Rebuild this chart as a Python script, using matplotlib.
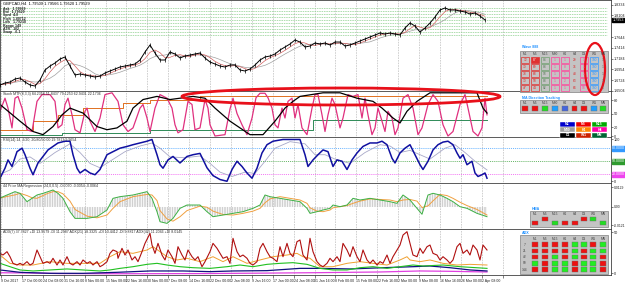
import numpy as np
import pandas as pd
import matplotlib
matplotlib.use("Agg")
import matplotlib.pyplot as plt
import matplotlib.transforms as mtrans
from matplotlib.patches import Rectangle, Ellipse

# ======================= DATA =======================
title_text = "GBPCAD,H4  1.79509 1.79566 1.79520 1.79529"
info_lines = ["Ask   1.79569", "Bid   1.79529", "Sprd  4.0", "High  1.80712",
              "Low   1.79218", "Range 149", "ATR   102", "Swap  -6.1"]
date_labels = ["9 Oct 2017", "17 Oct 00:00", "24 Oct 08:00", "31 Oct 16:00", "8 Nov 00:00",
               "15 Nov 08:00", "22 Nov 16:00", "30 Nov 00:00", "7 Dec 08:00", "14 Dec 16:00",
               "22 Dec 00:00", "2 Jan 08:00", "9 Jan 16:00", "17 Jan 00:00", "24 Jan 08:00",
               "31 Jan 16:00", "8 Feb 00:00", "15 Feb 08:00", "22 Feb 16:00", "2 Mar 00:00",
               "9 Mar 08:00", "16 Mar 16:00", "26 Mar 00:00", "2 Apr 08:00"]

# price closes (one value every 5 time slots)
close = [1.6622, 1.6664, 1.6685, 1.6749, 1.6771, 1.6685, 1.6622, 1.6600, 1.6728, 1.6941,
         1.7026, 1.7090, 1.7175, 1.7218, 1.7026, 1.6835, 1.6856, 1.6835, 1.6813, 1.6792,
         1.6813, 1.6877, 1.6920, 1.6962, 1.7005, 1.7026, 1.7048, 1.7069, 1.7154, 1.7324,
         1.7474, 1.7303, 1.7154, 1.7154, 1.7324, 1.7282, 1.7197, 1.7239, 1.7260, 1.7282,
         1.7303, 1.7197, 1.7111, 1.7069, 1.7026, 1.7005, 1.7048, 1.7048, 1.6941, 1.6920,
         1.6962, 1.7048, 1.7154, 1.7218, 1.7239, 1.7282, 1.7367, 1.7431, 1.7495, 1.7580,
         1.7537, 1.7431, 1.7452, 1.7516, 1.7495, 1.7516, 1.7474, 1.7537, 1.7537, 1.7452,
         1.7474, 1.7516, 1.7559, 1.7601, 1.7644, 1.7687, 1.7729, 1.7708, 1.7729, 1.7708,
         1.7687, 1.7836, 1.7942, 1.7878, 1.7750, 1.7836, 1.7942, 1.8070, 1.8219, 1.8262,
         1.8219, 1.8219, 1.8198, 1.8176, 1.8134, 1.8155, 1.8091, 1.8006]
close_step = 5
level_prices = [1.8262, 1.8198, 1.8134, 1.8070, 1.8006, 1.7942, 1.7878, 1.7814, 1.7750, 1.7687]
price_ticks = [1.8334, 1.8104, 1.7644, 1.7414, 1.7184, 1.6954, 1.6724, 1.6504]

# stochastic panel
stoch_t = [0, 5, 8, 12, 15, 18, 22, 27, 32, 37, 42, 50, 55, 58, 62, 65, 68, 72, 75, 80,
           85, 87, 90, 95, 100, 105, 112, 118, 123, 128, 133, 140, 143, 147, 150, 155, 160, 167, 172, 175,
           178, 183, 188, 192, 195, 200, 205, 208, 210, 215, 225, 230, 233, 237, 242, 247, 252, 256, 260, 265,
           268, 272, 275, 278, 282, 285, 288, 292, 295, 298, 302, 307, 312, 315, 318, 322, 325, 328, 332, 335,
           340, 343, 348, 353, 358, 362, 365, 368, 372, 375, 378, 382, 385, 388, 392, 395, 398, 403, 408, 413,
           418, 422, 428, 433, 438, 443, 448, 453, 460, 465, 468, 473, 478, 482, 485, 487]
stoch_v = [55, 84, 62, 18, 84, 88, 62, 14, 10, 77, 92, 92, 77, 18, 25, 70, 84, 47, 14, 7,
           55, 62, 33, 10, 40, 92, 96, 77, 25, 10, 18, 62, 70, 40, 10, 62, 92, 84, 62, 25,
           7, 14, 77, 70, 14, 18, 81, 62, 25, 0, 3, 60, 84, 50, 25, 3, 40, 85, 95, 95,
           85, 62, 25, 18, 62, 40, 77, 84, 40, 70, 18, 3, 62, 92, 92, 47, 10, 47, 84, 70,
           18, 40, 92, 88, 92, 40, 84, 47, 3, 18, 62, 33, 10, 55, 40, 3, 18, 84, 92, 62,
           3, 18, 70, 92, 77, 25, 0, 10, 70, 92, 62, 10, 0, 18, 84, 47]
trend_t = [0, 20, 33, 43, 53, 62, 70, 83, 97, 107, 117, 127, 133, 143, 157, 170, 180, 193, 205, 215,
           230, 250, 263, 275, 285, 293, 300, 323, 340, 357, 373, 382, 393, 400, 407, 417, 430, 477, 483, 487]
trend_v = [70, 33, 10, 3, 21, 47, 62, 51, 21, 14, 18, 33, 62, 81, 88, 81, 84, 88, 84, 62,
           33, 3, 3, 33, 62, 77, 88, 96, 96, 84, 77, 62, 40, 29, 55, 77, 96, 96, 62, 51]
orange_step_t = [0, 33, 58, 83, 123, 150, 200, 487]
orange_step_v = [14, 33, 47, 62, 73, 81, 90, 90]
green_step_t = [0, 62, 150, 313, 487]
green_step_v = [3, 7, 14, 36, 36]
stoch_ticks = [80, 50, 20, 0]

# RSI panel
rsi_t = [0, 5, 8, 12, 17, 22, 25, 30, 33, 38, 43, 48, 53, 58, 65, 70, 73, 77, 80, 85,
         90, 95, 100, 107, 113, 120, 127, 133, 140, 147, 152, 157, 160, 163, 168, 173, 180, 187, 193, 200,
         207, 213, 220, 227, 232, 237, 242, 247, 252, 257, 262, 267, 273, 283, 293, 300, 305, 308, 313, 318,
         323, 328, 333, 337, 342, 347, 352, 357, 363, 370, 377, 382, 387, 392, 395, 400, 405, 410, 415, 420,
         423, 428, 433, 438, 443, 448, 453, 457, 460, 463, 467, 472, 475, 478, 482, 485, 487]
rsi_v = [11, 34, 53, 38, 72, 80, 65, 34, 19, 46, 61, 76, 84, 92, 96, 96, 65, 34, 23, 31,
         23, 19, 31, 65, 72, 80, 84, 88, 92, 96, 100, 65, 42, 34, 53, 61, 46, 61, 65, 68,
         35, 17, 8, 4, 31, 50, 38, 23, 11, 34, 69, 88, 96, 100, 100, 100, 65, 38, 53, 65,
         76, 72, 38, 53, 50, 31, 53, 69, 84, 92, 92, 96, 88, 57, 46, 69, 80, 88, 65, 42,
         31, 50, 76, 88, 94, 96, 88, 69, 57, 65, 42, 50, 23, 15, 19, 23, 11]
rsi_sig_t = [0, 10, 20, 30, 40, 55, 70, 80, 90, 100, 110, 125, 140, 152, 160, 170, 185, 200, 210, 220,
             232, 245, 255, 265, 275, 290, 305, 315, 325, 335, 350, 365, 380, 390, 400, 410, 420, 430, 445, 455,
             465, 475, 487]
rsi_sig_v = [20, 30, 55, 60, 45, 70, 90, 70, 45, 35, 50, 72, 85, 92, 80, 60, 58, 62, 45, 25,
             15, 25, 22, 50, 80, 95, 90, 65, 65, 55, 45, 70, 88, 85, 70, 75, 65, 55, 80, 88,
             70, 50, 30]
rsi_levels = [80, 50, 20]

# regression panel
reg_t = [0, 7, 15, 20, 27, 32, 37, 43, 48, 53, 58, 63, 70, 75, 87, 97, 107, 113, 120, 133,
         147, 152, 157, 160, 167, 173, 180, 187, 200, 207, 213, 223, 233, 243, 253, 260, 265, 270, 280, 290,
         300, 307, 310, 317, 323, 330, 333, 340, 347, 353, 360, 370, 380, 390, 397, 403, 410, 417, 422, 428,
         433, 440, 447, 453, 460, 467, 477, 482, 487]
reg_v = [0.0059, 0.0079, 0.0101, 0.0090, 0.0035, 0.0057, 0.0079, 0.0090, 0.0101, 0.0112,
         0.0090, 0.0057, -0.0031, -0.0075, -0.0075, -0.0064, -0.0020, 0.0057, 0.0068, 0.0079,
         0.0101, 0.0057, -0.0031, -0.0097, -0.0108, -0.0075, -0.0009, 0.0013, 0.0013, -0.0031,
         -0.0064, -0.0053, -0.0042, -0.0031, -0.0009, 0.0013, 0.0079, 0.0068, 0.0057, 0.0046,
         0.0035, -0.0009, -0.0042, -0.0031, -0.0020, -0.0009, 0.0013, 0.0002, 0.0013, 0.0057,
         0.0046, 0.0057, 0.0046, 0.0035, 0.0024, 0.0079, 0.0046, -0.0009, -0.0048, 0.0079,
         0.0090, 0.0079, 0.0057, 0.0035, 0.0002, -0.0009, -0.0042, -0.0053, -0.0064]
reg_ticks = [0.0129, 0.0, -0.0121]
reg_tick_labels = ["0.0129", "0.00", "-0.0121"]

# ADX panel
adx_t = [0, 3, 7, 10, 13, 17, 20, 23, 27, 30, 33, 37, 40, 43, 47, 50, 53, 57, 60, 63,
         67, 70, 73, 77, 80, 83, 87, 90, 93, 97, 100, 103, 107, 110, 113, 117, 118, 122, 125, 128,
         132, 135, 138, 142, 145, 150, 152, 155, 158, 162, 165, 168, 172, 175, 178, 182, 185, 188, 192, 195,
         198, 202, 205, 210, 213, 217, 220, 223, 227, 230, 233, 237, 240, 243, 247, 250, 253, 257, 260, 263,
         267, 270, 273, 277, 280, 283, 287, 290, 293, 297, 300, 303, 307, 310, 313, 317, 320, 323, 327, 330,
         333, 337, 340, 343, 347, 350, 353, 357, 360, 363, 367, 370, 373, 377, 380, 383, 387, 390, 393, 397,
         400, 403, 407, 410, 413, 417, 420, 423, 427, 430, 433, 437, 440, 443, 447, 450, 453, 457, 460, 463,
         467, 470, 473, 477, 480, 483, 487]
adx_v = [24.6, 22.6, 26.6, 20.6, 12.7, 10.7, 12.7, 10.7, 14.7, 10.7, 12.7, 28.6, 20.6, 12.7, 14.7, 12.7, 18.7, 10.7, 16.7, 10.7,
         20.6, 12.7, 10.7, 14.7, 10.7, 16.7, 12.7, 14.7, 10.7, 14.7, 8.7, 10.7, 14.7, 24.6, 28.6, 26.6, 18.7, 30.6, 22.6, 28.6,
         16.7, 20.6, 14.7, 26.6, 36.5, 48.4, 34.5, 24.6, 36.5, 22.6, 16.7, 28.6, 20.6, 12.7, 32.5, 22.6, 16.7, 28.6, 20.6, 16.7,
         20.6, 8.7, 14.7, 26.6, 36.5, 30.6, 24.6, 18.7, 20.6, 12.7, 42.5, 26.6, 20.6, 22.6, 18.7, 12.7, 10.7, 14.7, 30.6, 36.5,
         26.6, 20.6, 18.7, 14.7, 32.5, 20.6, 36.5, 24.6, 20.6, 38.5, 40.5, 22.6, 16.7, 42.5, 26.6, 14.7, 10.7, 8.7, 12.7, 18.7,
         14.7, 20.6, 14.7, 36.5, 28.6, 20.6, 32.5, 20.6, 14.7, 28.6, 16.7, 12.7, 16.7, 10.7, 14.7, 12.7, 22.6, 12.7, 20.6, 28.6,
         34.5, 46.4, 50.4, 36.5, 22.6, 20.6, 30.6, 24.6, 32.5, 34.5, 24.6, 22.6, 16.7, 20.6, 16.7, 12.7, 16.7, 32.5, 36.5, 24.6,
         28.6, 22.6, 34.5, 28.6, 16.7, 34.5, 28.6]
di_orange_t = [0, 10, 20, 33, 50, 67, 83, 100, 110, 120, 133, 147, 153, 160, 167, 177, 187, 200, 213, 223,
               233, 247, 260, 273, 287, 297, 303, 310, 320, 333, 347, 360, 373, 387, 400, 407, 410, 420, 430, 443,
               457, 470, 487]
di_orange_v = [22.6, 12.7, 10.7, 10.7, 14.7, 12.7, 12.7, 12.7, 20.6, 26.6, 24.6, 28.6, 32.5, 26.6, 20.6, 16.7, 18.7, 14.7, 20.6, 14.7,
               20.6, 12.7, 16.7, 20.6, 22.6, 24.6, 20.6, 18.7, 8.7, 8.7, 12.7, 14.7, 12.7, 10.7, 16.7, 20.6, 16.7, 14.7, 16.7, 12.7,
               10.7, 11.5, 10.7]
di_green_t = [0, 10, 20, 33, 50, 67, 83, 100, 110, 120, 133, 147, 157, 167, 180, 193, 210, 227, 240, 253,
              267, 280, 293, 307, 320, 333, 347, 360, 373, 387, 400, 413, 423, 443, 460, 487]
di_green_v = [12.7, 8.7, 4.8, 3.6, 4.8, 6.0, 4.8, 3.6, 4.8, 6.7, 8.7, 11.5, 12.7, 10.7, 8.7, 7.5, 6.7, 8.7, 10.7, 8.7,
              11.5, 12.7, 13.5, 11.5, 6.7, 4.8, 4.8, 7.5, 8.7, 6.7, 8.7, 10.7, 9.5, 10.7, 8.7, 6.7]
di_navy_t = [0, 20, 50, 83, 117, 150, 183, 210, 233, 267, 300, 320, 350, 383, 413, 430, 450, 470, 487]
di_navy_v = [4.8, 2.0, 0.8, 0.8, 2.0, 3.6, 3.6, 2.8, 3.6, 4.0, 6.7, 6.7, 6.0, 7.5, 8.7, 9.5, 7.5, 4.8, 3.6]
di_mag_t = [0, 30, 60, 120, 200, 260, 320, 380, 420, 450, 487]
di_mag_v = [1.5, 1.2, 0.5, 0.3, 0.5, 1.0, 1.6, 2.4, 3.6, 3.2, 2.4]

# dashboard tables
tf9 = ["M1", "M5", "M15", "M30", "H1", "H4", "D1", "W1", "MN"]
tf8 = ["M1", "M5", "M15", "H1", "H4", "D1", "W1", "MN"]
wave_vals = [[12, 87, 84, 1, 1, 29, 1, 100, 1],
             [70, 69, 83, 1, 8, 36, 1, 100, 1],
             [78, 68, 93, 1, 1, 48, 1, 100, 1],
             [70, 58, 88, 1, 2, 63, 1, 100, 1],
             [47, 44, 82, 1, 1, 64, 98, 100, 1]]
ma_dir = ["r", "r", "g", "c", "b", "r", "r", "c", "g"]
legend_cells = [[("M1", "#0000cc"), ("M5", "#ee0000"), ("M15", "#00aa00")],
                [("M30", "#a0a0a0"), ("H1", "#ff8800"), ("H4", "#ff00aa")],
                [("D1", "#000000"), ("W1", "#cc2200"), ("MN", "#006633")]]
hma_state = ["r-", "r+", "g-", "r-", "r-", "r+", "g+", "g-"]
adx_periods = ["7", "21", "42", "90", "144"]
adx_grid = ["RRRRGGRG", "RRRRGRGG", "RRGRGRGR", "GRGGRGGR", "RRGGRGGR"]

# ======================= FIGURE =======================
plt.rcParams["font.family"] = ["Liberation Sans Narrow", "Liberation Sans", "DejaVu Sans"]
plt.rcParams["hatch.linewidth"] = 0.45
W, H = 625, 285
fig = plt.figure(figsize=(W / 100, H / 100), dpi=100, facecolor="white")
XR = 611
FS = 2.7
grid_pos = 1 + 20.9 * np.arange(len(date_labels) + 1)


def panel(y0, y1, ylim, fs=FS):
    ax = fig.add_axes([0, 1 - y1 / H, XR / W, (y1 - y0) / H])
    ax.set_xlim(0, XR)
    ax.set_ylim(*ylim)
    ax.set_facecolor("white")
    for s in ax.spines.values():
        s.set_color("#404040")
        s.set_linewidth(0.6)
    ax.yaxis.tick_right()
    ax.tick_params(axis="y", labelsize=fs, length=1.5, width=0.4, pad=0.6, colors="#202020")
    ax.set_xticks(grid_pos)
    ax.tick_params(axis="x", length=0, labelbottom=False)
    ax.grid(True, axis="x", color="#8a8a8a", lw=0.45, ls=(0, (1, 1.6)))
    ax.set_axisbelow(True)
    return ax


# ---------- main price panel ----------
ax1 = panel(0, 91, (1.6494, 1.8432))
tc = np.arange(len(close)) * close_step
for lv in level_prices:
    ax1.hlines(lv, 0, 607, color="#8fd08f", lw=0.5, ls=(0, (2.2, 1.2)), zorder=1)
cs = pd.Series(close)
ax1.plot(tc, cs.rolling(6, min_periods=1).mean(), color="#a0a0a0", lw=0.5, zorder=2)
ax1.plot(tc, cs.rolling(3, min_periods=1).mean(), color="#d05050", lw=0.45, zorder=2)
ax1.plot(tc, close, color="black", lw=0.7, marker="|", ms=2.2, mew=0.5, zorder=3)
ax1.set_yticks(price_ticks)
ax1.set_yticklabels([f"{p:.4f}" for p in price_ticks])
btr = mtrans.blended_transform_factory(ax1.transAxes, ax1.transData)
ax1.text(1.002, close[-1], "1.7953", transform=btr, fontsize=FS, color="white",
         va="center", ha="left", bbox=dict(boxstyle="square,pad=0.12", fc="black", ec="black"))

# ---------- stochastic panel ----------
ax2 = panel(91, 137, (-2.2, 100))
ax2.plot(green_step_t, green_step_v, color="#2e8b57", lw=0.7, drawstyle="steps-post")
ax2.plot(orange_step_t, orange_step_v, color="#e07020", lw=0.7, drawstyle="steps-post")
ax2.plot(stoch_t, stoch_v, color="#e0307f", lw=0.9, solid_joinstyle="round")
ax2.plot(trend_t, trend_v, color="black", lw=0.9)
ax2.set_yticks(stoch_ticks)
ax2.set_yticklabels([str(v) for v in stoch_ticks])

# ---------- RSI panel ----------
ax3 = panel(137, 183, (0, 105.7))
lvl_colors = ["#3399ff", "#2e9b2e", "#ee44ee"]
tr3 = mtrans.blended_transform_factory(ax3.transAxes, ax3.transData)
for lv, c in zip(rsi_levels, lvl_colors):
    ax3.axhline(lv, color=c, lw=0.5, ls=(0, (1.5, 1.5)))
    ax3.text(1.002, lv, f"{lv}.0000", transform=tr3, fontsize=2.5, color="white", va="center",
             ha="left", bbox=dict(boxstyle="square,pad=0.12", fc=c, ec=c))
ax3.plot(rsi_sig_t, rsi_sig_v, color="#a8a8c8", lw=0.6)
ax3.plot(rsi_t, rsi_v, color="#1010a0", lw=1.1, solid_joinstyle="round")
ax3.set_yticks([100, 4])
ax3.set_yticklabels(["100", "0"])

# ---------- regression panel ----------
ax4 = panel(183, 229, (-0.0145, 0.0158), fs=2.4)
ax4.fill_between(reg_t, 0, reg_v, facecolor="none", edgecolor="#b4b4b4", hatch="||||||||||", lw=0)
rs = pd.Series(reg_v).rolling(3, min_periods=1).mean()
ax4.plot(reg_t, rs, color="#f0a040", lw=0.7)
ax4.plot(reg_t, reg_v, color="#3cb043", lw=0.7)
ax4.set_yticks(reg_ticks)
ax4.set_yticklabels(reg_tick_labels)
ax4.tick_params(axis="y", pad=0.4)

# ---------- ADX panel ----------
ax5 = panel(229, 275, (-1.2, 53.6))
ax5.plot(di_mag_t, di_mag_v, color="#e040e0", lw=0.9)
ax5.plot(di_navy_t, di_navy_v, color="#101080", lw=0.9)
ax5.plot(di_green_t, di_green_v, color="#20c020", lw=0.8)
ax5.plot(di_orange_t, di_orange_v, color="#f0a030", lw=0.7)
ax5.plot(adx_t, adx_v, color="#b01010", lw=0.8)
ax5.set_yticks([50, 1])
ax5.set_yticklabels(["50", "0"])
ax5.tick_params(axis="x", length=2, width=0.4, labelbottom=True, labelsize=2.55, pad=0.8,
                direction="out", colors="#202020")
ax5.set_xticklabels(date_labels + [""])
for lab in ax5.get_xticklabels():
    lab.set_ha("left")

# ======================= OVERLAY =======================
ov = fig.add_axes([0, 0, 1, 1])
ov.set_xlim(0, W)
ov.set_ylim(H, 0)
ov.axis("off")
ov.patch.set_alpha(0)

ov.text(3, 3.2, title_text, fontsize=2.9, color="black", va="center")
for i, ln in enumerate(info_lines):
    ov.text(3, 8.5 + 3.4 * i, ln, fontsize=2.5, color="#202020", va="center", fontweight="bold")
ov.text(3, 93.5, "Stoch MTF(8,3,3) 84.2358 51.8437 79.1253 62.9431 22.1736", fontsize=2.6, color="#303030", va="center")
ov.text(3, 139.5, "RSI(14) 14, 2/20, 20/80/50.00 19.7813 9.9654", fontsize=2.6, color="#303030", va="center")
ov.text(3, 186.5, "44 Price MA Regression (24,0,0.5) -0.0060 -0.0054 -0.0064", fontsize=2.6, color="#303030", va="center")
ov.text(3, 232, "ADX(7) 37.7827 +DI 13.9579 -DI 11.2987 ADX(21) 18.3325 +DI 10.4412 -DI 9.8817 ADX(42) 11.2046 +DI 8.0145",
        fontsize=2.6, color="#303030", va="center")

CLR = {"r": "#ee1111", "g": "#22dd22", "c": "#1e9fff", "b": "#4466dd",
       "R": "#ee1111", "G": "#22ee22"}

# wave table
cx9 = [525, 535, 545, 555, 565, 574.5, 584, 594, 603]
ov.add_patch(Rectangle((520, 50.5), 88, 41, fc="#c4c4c4", ec="#808080", lw=0.5))
ov.text(522, 47.5, "Wave 888", fontsize=2.6, color="#1e90ff", va="center", fontweight="bold")
for x, lab in zip(cx9, tf9):
    ov.text(x, 54, lab, fontsize=2.3, color="#404040", ha="center", va="center")
col_edge = ["#e03030", "#e03030", "#70a070", "#ff4499", "#ff4499", None, "#ff4499", "#3399ff", None]
col_txt = ["#dd2222", "#dd2222", "#557755", "#ff4499", "#ff4499", "#dd2222", "#ff4499", "#3399ff", "#666666"]
ry = [60, 67, 74, 81, 88]
for r, y in enumerate(ry):
    for c, x in enumerate(cx9):
        e = col_edge[c]
        filled = (r == 0 and c == 1)
        if e:
            ov.add_patch(Rectangle((x - 4, y - 2.7), 8, 5.4, fc=e if filled else "none", ec=e, lw=0.5))
        ov.text(x, y, str(wave_vals[r][c]), fontsize=2.3, color="white" if filled else col_txt[c],
                ha="center", va="center")

# MA direction table
ov.text(522, 97.5, "MA Direction Tracking", fontsize=2.6, color="#1e90ff", va="center", fontweight="bold")
ov.add_patch(Rectangle((520, 100), 88, 12.5, fc="#c4c4c4", ec="#808080", lw=0.5))
for x, lab, st in zip(cx9, tf9, ma_dir):
    ov.text(x, 103.5, lab, fontsize=2.3, color="#404040", ha="center", va="center")
    ov.add_patch(Rectangle((x - 2.8, 106), 5.6, 4.5, fc=CLR[st], ec="#707070", lw=0.3))

# legend cells
lx = [560, 576, 592]
ly = [121.5, 127, 132.5]
for r, row in enumerate(legend_cells):
    for c, (lab, col) in enumerate(row):
        ov.add_patch(Rectangle((lx[c], ly[r]), 15, 5, fc=col, ec="white", lw=0.3))
        ov.text(lx[c] + 7.5, ly[r] + 2.6, lab, fontsize=2.4, color="white", ha="center", va="center",
                fontweight="bold")

# HMA table
cx8 = [535, 545, 555, 565, 575, 584, 593, 603]
ov.text(532, 208.5, "HMA", fontsize=2.6, color="#1e90ff", va="center", fontweight="bold")
ov.add_patch(Rectangle((530, 210.5), 78, 16, fc="#c4c4c4", ec="#808080", lw=0.5))
for x, lab, st in zip(cx8, tf8, hma_state):
    ov.text(x, 214, lab, fontsize=2.3, color="#404040", ha="center", va="center")
    yy = 216.5 if st[1] == "+" else 220.5
    ov.add_patch(Rectangle((x - 2.6, yy), 5.2, 4.5, fc=CLR[st[0]], ec="#707070", lw=0.3))

# ADX table
ov.text(522, 233, "ADX", fontsize=2.6, color="#1e90ff", va="center", fontweight="bold")
ov.add_patch(Rectangle((520, 235), 88, 39, fc="#c4c4c4", ec="#808080", lw=0.5))
for x, lab in zip(cx8, tf8):
    ov.text(x, 239, lab, fontsize=2.3, color="#404040", ha="center", va="center")
for r, (per, row) in enumerate(zip(adx_periods, adx_grid)):
    y = 244.5 + 6.3 * r
    ov.text(525, y, per, fontsize=2.3, color="#404040", ha="center", va="center")
    for x, st in zip(cx8, row):
        ov.add_patch(Rectangle((x - 2.6, y - 2.3), 5.2, 4.6, fc=CLR[st], ec="#707070", lw=0.3))

# hand-drawn red ellipses
ov.add_patch(Ellipse((341, 96.5), 318, 17, fc="none", ec="#e8101a", lw=2.0))
ov.add_patch(Ellipse((595, 69), 20, 52, fc="none", ec="#e8101a", lw=1.6))

fig.savefig("out.png", dpi=100, facecolor="white")
